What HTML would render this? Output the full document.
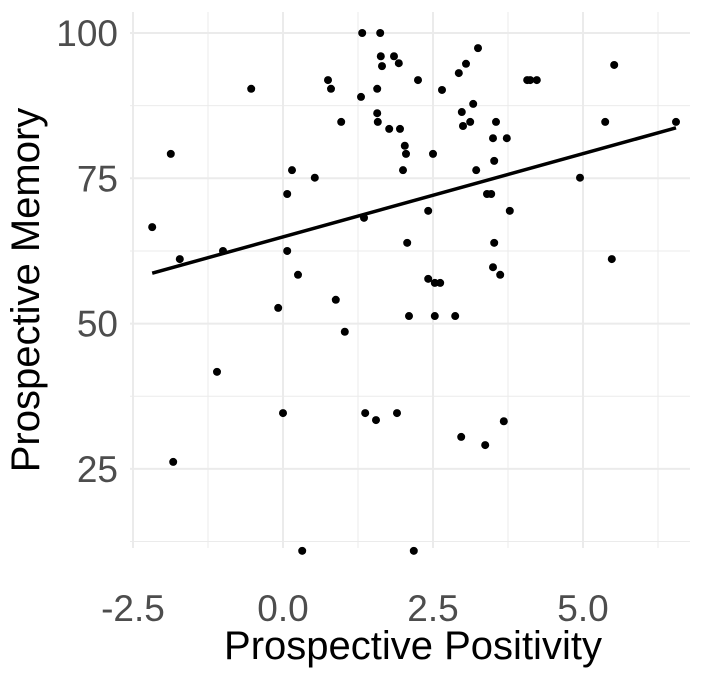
<!DOCTYPE html>
<html><head><meta charset="utf-8"><style>
body{margin:0;background:#fff;}
svg{display:block;font-family:"Liberation Sans",sans-serif;}
</style></head><body>
<svg id="chart" width="709" height="673"></svg>
<script>
const xVals=[-2.18,-1.87,-1.72,-1.83,-1.1,-1.0,-0.53,-0.08,0.0,0.07,0.07,0.15,0.25,0.32,0.53,0.75,0.8,0.88,0.97,1.03,1.3,1.32,1.35,1.37,1.55,1.57,1.57,1.58,1.62,1.63,1.65,1.77,1.85,1.9,1.93,1.95,2.0,2.03,2.05,2.07,2.1,2.18,2.25,2.42,2.42,2.5,2.53,2.53,2.62,2.65,2.87,2.93,2.97,2.98,3.0,3.05,3.12,3.17,3.22,3.25,3.37,3.4,3.47,3.5,3.5,3.52,3.55,3.52,3.62,3.68,3.73,3.78,4.07,4.12,4.23,4.95,5.37,5.48,5.52,6.55];
const yVals=[66.6,79.2,61.1,26.2,41.7,62.5,90.4,52.7,34.6,62.5,72.3,76.4,58.4,10.9,75.1,91.9,90.4,54.1,84.7,48.6,89.0,100,68.2,34.6,33.4,90.4,86.2,84.7,100,96.0,94.3,83.5,96.0,34.6,94.8,83.5,76.4,80.6,79.2,63.9,51.3,10.9,91.9,57.7,69.4,79.2,51.3,57.0,57.0,90.2,51.3,93.1,30.5,86.4,84.0,94.7,84.7,87.8,76.4,97.4,29.1,72.3,72.3,59.7,81.9,78.0,84.7,63.9,58.4,33.2,81.9,69.4,91.9,91.9,91.9,75.1,84.7,61.1,94.5,84.7];
const xTicks=[-2.5,0.0,2.5,5.0];
const yTicks=[25,50,75,100];
const xMinor=[-1.25,1.25,3.75,6.25];
const yMinor=[12.5,37.5,62.5,87.5];
const sx=v=>283+v*60;
const sy=v=>33+(100-v)*5.812;
const svg=document.getElementById('chart');
const NS='http://www.w3.org/2000/svg';
function mk(tag,attrs,parent){const e=document.createElementNS(NS,tag);for(const k in attrs)e.setAttribute(k,attrs[k]);(parent||svg).appendChild(e);return e;}
const L=130,R=690,T=12,B=548;
xMinor.forEach(v=>{const l=mk('line',{x1:sx(v),x2:sx(v),y1:T,y2:B,stroke:'#ebebeb','stroke-width':1});

});
yMinor.forEach(v=>{const l=mk('line',{x1:L,x2:R,y1:sy(v),y2:sy(v),stroke:'#ebebeb','stroke-width':1});

});
xTicks.forEach(v=>{const l=mk('line',{x1:sx(v),x2:sx(v),y1:T,y2:B,stroke:'#ebebeb','stroke-width':2});


const t=mk('text',{x:sx(v),y:621,'text-anchor':'middle','font-size':37,fill:'#4d4d4d'});t.textContent=v.toFixed(1);

});
yTicks.forEach(v=>{const l=mk('line',{x1:L,x2:R,y1:sy(v),y2:sy(v),stroke:'#ebebeb','stroke-width':2});


const t=mk('text',{x:118,y:sy(v)+13,'text-anchor':'end','font-size':37,fill:'#4d4d4d'});t.textContent=v;

});
xVals.forEach((x,i)=>{const c=mk('circle',{cx:sx(x),cy:sy(yVals[i]),r:4,fill:'#000'});

});
const n=xVals.length,mx=xVals.reduce((a,b)=>a+b)/n,my=yVals.reduce((a,b)=>a+b)/n;
let sxy=0,sxx=0;xVals.forEach((x,i)=>{sxy+=(x-mx)*(yVals[i]-my);sxx+=(x-mx)*(x-mx);});
const b=sxy/sxx,a=my-b*mx;
const x0=Math.min(...xVals),x1=Math.max(...xVals);
const rl=mk('line',{x1:sx(x0),y1:sy(a+b*x0),x2:sx(x1),y2:sy(a+b*x1),stroke:'#000','stroke-width':3.5});


const xt=mk('text',{x:413,y:659,'text-anchor':'middle','font-size':40,fill:'#000'});xt.textContent='Prospective Positivity';


const yt=mk('text',{x:0,y:0,'text-anchor':'middle','font-size':40,fill:'#000',transform:'translate(39,290) rotate(-90)'});yt.textContent='Prospective Memory';


</script>
</body></html>
